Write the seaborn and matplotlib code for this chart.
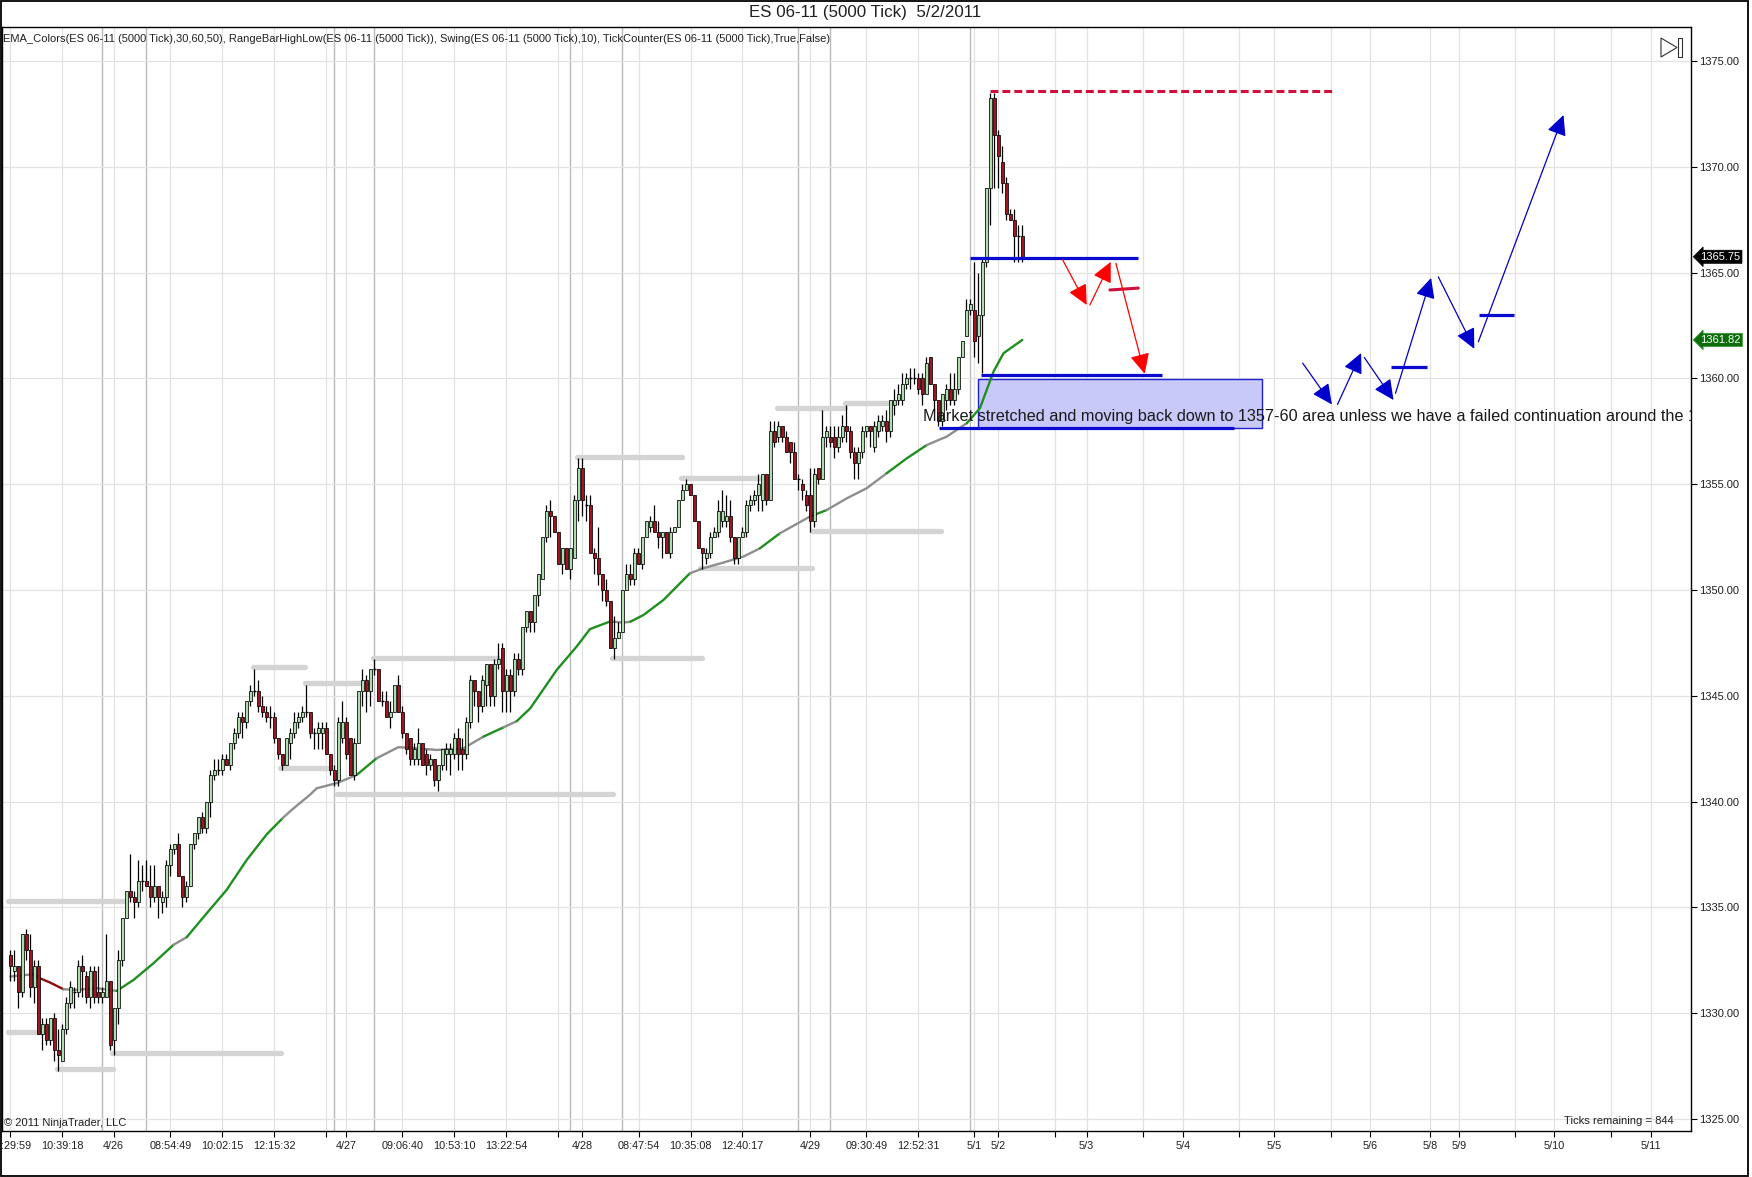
import numpy as np
import pandas as pd
import matplotlib
matplotlib.use("Agg")
import matplotlib.pyplot as plt
import matplotlib.transforms as mtransforms
from matplotlib.patches import Rectangle, Polygon
import seaborn as sns

# ---------------- data ----------------
opens = [
    1332.75, 1332.0, 1332.25, 1331.0, 1333.75, 1333.0, 1331.25, 1332.25, 1329.0, 1329.5,
    1328.75, 1329.75, 1328.25, 1327.75, 1329.25, 1330.5, 1331.0, 1331.0, 1332.25, 1331.75,
    1330.75, 1332.0, 1331.0, 1330.75, 1330.75, 1331.5, 1328.75, 1330.25, 1332.5, 1334.5,
    1335.75, 1335.5, 1335.25, 1336.25, 1336.25, 1336.0, 1335.5, 1336.0, 1335.25, 1335.5,
    1337.0, 1337.75, 1338.0, 1336.5, 1335.5, 1336.0, 1338.0, 1338.5, 1339.25, 1338.75,
    1340.0, 1341.25, 1341.5, 1341.5, 1342.0, 1341.75, 1342.75, 1343.25, 1344.0, 1343.75,
    1344.75, 1345.25, 1345.25, 1344.5, 1344.25, 1344.0, 1344.0, 1343.0, 1342.25, 1341.75,
    1342.75, 1343.25, 1343.75, 1344.0, 1344.25, 1344.25, 1343.25, 1343.25, 1343.25, 1343.5,
    1342.25, 1341.5, 1341.0, 1343.0, 1343.75, 1343.0, 1341.25, 1342.75, 1345.25, 1345.75,
    1345.25, 1346.25, 1346.25, 1344.75, 1344.75, 1344.0, 1344.25, 1345.5, 1344.25, 1343.25,
    1343.0, 1342.0, 1342.0, 1342.75, 1342.25, 1341.75, 1342.0, 1341.0, 1341.75, 1342.25,
    1342.25, 1342.25, 1343.0, 1342.5, 1342.25, 1343.75, 1345.75, 1345.25, 1344.5, 1345.5,
    1346.5, 1345.0, 1346.5, 1347.25, 1345.25, 1346.0, 1345.25, 1346.75, 1346.25, 1348.25,
    1349.0, 1348.5, 1349.75, 1350.5, 1352.5, 1353.75, 1353.5, 1352.75, 1351.25, 1352.0,
    1351.0, 1351.5, 1354.25, 1355.75, 1354.0, 1354.0, 1351.75, 1351.5, 1350.75, 1350.0,
    1349.5, 1347.25, 1347.75, 1348.0, 1350.0, 1350.75, 1350.5, 1351.75, 1351.25, 1352.5,
    1353.0, 1353.25, 1352.75, 1352.5, 1352.75, 1351.75, 1352.75, 1353.0, 1354.25, 1354.75,
    1355.0, 1354.5, 1353.25, 1352.0, 1351.5, 1351.75, 1352.5, 1352.75, 1353.25, 1353.25,
    1353.5, 1352.5, 1351.5, 1352.5, 1352.75, 1354.0, 1354.25, 1354.5, 1354.25, 1355.5,
    1354.25, 1357.5, 1357.25, 1357.75, 1357.25, 1357.0, 1356.5, 1355.25, 1355.0, 1354.5,
    1354.5, 1353.25, 1355.75, 1355.25, 1357.25, 1357.25, 1357.25, 1356.75, 1357.25, 1357.75,
    1357.5, 1356.5, 1356.0, 1356.5, 1357.5, 1357.75, 1356.75, 1357.5, 1357.75, 1358.0,
    1357.5, 1358.75, 1359.0, 1359.0, 1359.75, 1360.0, 1360.0, 1360.0, 1360.0, 1359.25,
    1361.0, 1359.75, 1359.0, 1358.0, 1359.0, 1359.5, 1359.0, 1359.5, 1361.0, 1362.0,
    1363.25, 1363.25, 1362.0, 1363.0, 1365.5, 1369.0, 1373.25, 1371.5, 1370.25, 1369.25,
    1367.75, 1367.5, 1366.75, 1366.75,
]
highs = [
    1333.0, 1333.0, 1332.25, 1333.75, 1334.0, 1333.75, 1332.5, 1332.5, 1329.75, 1329.75,
    1329.75, 1330.0, 1329.25, 1329.5, 1330.75, 1331.5, 1331.25, 1332.5, 1332.75, 1332.0,
    1332.25, 1332.25, 1332.25, 1331.25, 1333.75, 1331.5, 1330.25, 1333.0, 1334.5, 1335.75,
    1337.5, 1335.75, 1337.25, 1337.0, 1337.25, 1337.0, 1337.0, 1336.0, 1335.75, 1337.25,
    1338.0, 1338.0, 1338.5, 1336.5, 1336.25, 1338.0, 1338.5, 1339.25, 1339.5, 1340.0,
    1341.5, 1342.0, 1342.0, 1342.25, 1342.25, 1342.75, 1343.5, 1344.25, 1344.25, 1344.75,
    1345.5, 1346.25, 1345.75, 1345.0, 1344.5, 1344.5, 1344.25, 1343.0, 1342.25, 1343.0,
    1343.5, 1344.25, 1344.25, 1344.5, 1345.5, 1344.25, 1343.5, 1343.75, 1343.75, 1343.75,
    1342.25, 1341.75, 1344.0, 1344.75, 1344.0, 1343.0, 1343.0, 1345.25, 1346.25, 1346.0,
    1346.25, 1346.75, 1346.25, 1345.25, 1345.25, 1344.75, 1345.5, 1346.0, 1344.5, 1343.25,
    1343.0, 1342.75, 1343.5, 1342.75, 1342.5, 1342.25, 1342.0, 1341.75, 1342.5, 1342.75,
    1342.75, 1343.25, 1343.5, 1343.0, 1344.0, 1346.0, 1345.75, 1345.25, 1346.0, 1346.5,
    1346.5, 1346.75, 1347.5, 1347.5, 1346.25, 1346.25, 1347.0, 1347.0, 1348.25, 1349.0,
    1349.0, 1349.75, 1350.75, 1352.5, 1354.0, 1354.25, 1353.5, 1352.75, 1352.0, 1352.0,
    1352.0, 1354.5, 1356.25, 1356.25, 1354.5, 1354.5, 1352.0, 1353.0, 1350.75, 1350.5,
    1349.5, 1348.75, 1348.5, 1350.0, 1351.25, 1351.25, 1352.0, 1352.0, 1352.5, 1353.25,
    1353.5, 1354.0, 1353.25, 1352.75, 1352.75, 1353.0, 1353.0, 1354.25, 1355.0, 1355.25,
    1355.0, 1354.5, 1353.25, 1352.0, 1352.0, 1352.75, 1353.0, 1354.25, 1354.75, 1354.5,
    1354.25, 1352.5, 1352.5, 1353.0, 1354.25, 1354.5, 1354.75, 1355.5, 1355.5, 1355.5,
    1358.0, 1358.0, 1358.0, 1357.75, 1357.5, 1357.0, 1357.0, 1355.5, 1355.25, 1354.75,
    1355.75, 1355.75, 1355.75, 1358.5, 1357.75, 1357.75, 1357.75, 1357.75, 1358.25, 1358.75,
    1357.75, 1356.75, 1356.75, 1357.75, 1357.75, 1357.75, 1358.0, 1358.25, 1358.25, 1358.5,
    1359.0, 1359.5, 1359.75, 1360.25, 1360.25, 1360.5, 1360.5, 1360.25, 1360.25, 1361.0,
    1361.0, 1359.75, 1359.0, 1359.25, 1359.75, 1360.25, 1360.25, 1361.0, 1361.75, 1363.75,
    1363.75, 1365.5, 1365.0, 1365.75, 1369.0, 1373.5, 1373.5, 1371.75, 1371.0, 1369.5,
    1368.0, 1368.0, 1367.25, 1367.25,
]
lows = [
    1331.5, 1331.5, 1330.25, 1330.75, 1332.5, 1330.75, 1330.5, 1329.0, 1328.25, 1328.5,
    1328.5, 1327.75, 1327.25, 1327.75, 1329.0, 1330.25, 1330.25, 1330.75, 1330.75, 1330.5,
    1330.25, 1330.5, 1330.5, 1330.5, 1330.75, 1328.25, 1328.0, 1329.5, 1332.25, 1334.5,
    1335.25, 1334.5, 1335.0, 1335.75, 1336.0, 1335.0, 1335.25, 1334.5, 1334.75, 1335.0,
    1336.5, 1337.5, 1336.5, 1335.0, 1335.25, 1336.0, 1337.75, 1338.25, 1338.5, 1338.5,
    1339.25, 1341.0, 1341.25, 1341.25, 1341.75, 1341.5, 1342.5, 1343.0, 1343.0, 1343.5,
    1344.5, 1345.0, 1344.25, 1344.0, 1343.75, 1343.5, 1342.75, 1342.0, 1341.5, 1341.75,
    1342.0, 1343.0, 1343.5, 1343.75, 1344.0, 1343.0, 1342.5, 1342.5, 1342.5, 1342.25,
    1341.25, 1340.75, 1340.75, 1342.75, 1342.0, 1341.25, 1341.0, 1342.75, 1344.5, 1344.25,
    1344.5, 1346.0, 1344.75, 1344.5, 1344.0, 1343.5, 1344.25, 1344.25, 1343.0, 1342.25,
    1341.75, 1341.75, 1341.75, 1341.75, 1341.25, 1341.5, 1340.75, 1340.5, 1341.5, 1341.5,
    1341.25, 1342.0, 1341.5, 1341.5, 1342.0, 1343.5, 1344.5, 1343.75, 1344.25, 1344.5,
    1344.5, 1344.5, 1346.25, 1344.25, 1344.25, 1344.25, 1345.0, 1346.0, 1346.0, 1348.0,
    1348.0, 1348.0, 1349.25, 1350.5, 1352.25, 1352.5, 1352.75, 1351.25, 1350.75, 1351.0,
    1350.5, 1351.5, 1353.25, 1353.5, 1353.25, 1351.75, 1350.75, 1350.25, 1349.5, 1349.25,
    1347.25, 1346.75, 1347.75, 1348.0, 1350.0, 1350.25, 1350.25, 1351.25, 1351.0, 1352.5,
    1352.75, 1352.75, 1352.0, 1351.5, 1351.75, 1351.5, 1352.75, 1353.0, 1354.25, 1354.75,
    1354.5, 1353.25, 1352.0, 1351.0, 1351.25, 1351.5, 1352.5, 1352.5, 1353.0, 1353.0,
    1352.25, 1351.25, 1351.25, 1352.5, 1352.5, 1353.75, 1354.0, 1353.75, 1353.75, 1354.0,
    1354.25, 1356.75, 1357.0, 1357.0, 1356.5, 1356.0, 1355.25, 1354.75, 1354.25, 1353.75,
    1352.75, 1353.0, 1355.0, 1355.25, 1356.75, 1356.75, 1356.25, 1356.5, 1357.0, 1357.0,
    1356.25, 1355.25, 1355.25, 1356.25, 1357.25, 1356.75, 1356.5, 1357.25, 1357.5, 1357.0,
    1357.25, 1358.25, 1358.75, 1358.75, 1359.5, 1359.5, 1359.75, 1359.25, 1358.75, 1359.25,
    1359.75, 1358.5, 1357.75, 1357.75, 1358.5, 1358.75, 1358.75, 1359.25, 1361.0, 1362.0,
    1363.0, 1361.0, 1360.75, 1360.25, 1365.25, 1367.25, 1369.0, 1369.0, 1368.75, 1367.5,
    1367.5, 1365.5, 1365.5, 1365.5,
]
closes = [
    1332.25, 1332.25, 1331.0, 1333.75, 1333.0, 1331.25, 1332.25, 1329.0, 1329.5, 1328.75,
    1329.75, 1328.25, 1328.0, 1329.25, 1330.5, 1331.25, 1331.0, 1332.25, 1332.0, 1330.75,
    1332.0, 1330.75, 1330.75, 1331.0, 1331.5, 1328.5, 1330.25, 1332.5, 1334.5, 1335.75,
    1335.5, 1335.25, 1336.25, 1336.25, 1336.0, 1335.5, 1336.0, 1335.5, 1335.5, 1337.0,
    1337.75, 1338.0, 1336.5, 1335.5, 1336.0, 1338.0, 1338.5, 1339.25, 1338.75, 1340.0,
    1341.25, 1341.5, 1341.5, 1342.0, 1341.75, 1342.75, 1343.25, 1344.0, 1343.75, 1344.75,
    1345.25, 1345.25, 1344.5, 1344.25, 1344.0, 1344.0, 1343.0, 1342.25, 1341.75, 1343.0,
    1343.25, 1343.75, 1344.0, 1344.25, 1344.25, 1343.25, 1343.25, 1343.5, 1343.5, 1342.25,
    1341.5, 1341.0, 1343.75, 1343.75, 1342.25, 1341.25, 1342.75, 1345.25, 1345.75, 1345.25,
    1346.25, 1346.25, 1344.75, 1344.75, 1344.0, 1344.25, 1345.5, 1344.25, 1343.25, 1342.5,
    1342.0, 1342.5, 1342.75, 1341.75, 1341.75, 1342.0, 1341.0, 1341.75, 1342.5, 1342.5,
    1342.5, 1343.0, 1342.25, 1342.25, 1343.75, 1345.75, 1345.25, 1344.5, 1345.75, 1346.5,
    1345.0, 1346.5, 1346.75, 1345.25, 1346.0, 1345.25, 1346.75, 1346.25, 1348.25, 1349.0,
    1348.5, 1349.75, 1350.75, 1352.5, 1353.75, 1353.5, 1352.75, 1351.25, 1352.0, 1351.0,
    1352.0, 1354.25, 1355.75, 1354.25, 1354.0, 1351.75, 1351.5, 1350.75, 1350.0, 1349.5,
    1347.25, 1347.75, 1348.0, 1350.0, 1350.75, 1350.5, 1351.75, 1351.25, 1352.5, 1353.25,
    1353.25, 1352.75, 1352.5, 1352.75, 1351.75, 1352.75, 1353.0, 1354.25, 1354.75, 1355.0,
    1354.5, 1353.25, 1352.0, 1351.75, 1351.75, 1352.5, 1352.75, 1353.75, 1353.75, 1353.5,
    1352.5, 1351.5, 1352.5, 1352.75, 1354.0, 1354.25, 1354.5, 1355.0, 1355.5, 1354.25,
    1357.5, 1357.0, 1357.75, 1357.25, 1356.5, 1356.5, 1355.25, 1355.25, 1354.75, 1354.0,
    1353.25, 1355.5, 1355.25, 1357.25, 1357.5, 1357.0, 1356.75, 1357.25, 1357.75, 1357.5,
    1356.5, 1356.0, 1356.5, 1357.5, 1357.75, 1357.5, 1357.75, 1358.0, 1358.0, 1357.5,
    1359.0, 1359.0, 1359.25, 1359.75, 1360.0, 1360.0, 1360.0, 1359.5, 1359.25, 1360.75,
    1359.75, 1359.0, 1358.0, 1359.25, 1359.5, 1359.0, 1359.5, 1361.0, 1361.75, 1363.25,
    1363.5, 1361.75, 1363.0, 1365.5, 1369.0, 1373.25, 1371.5, 1370.5, 1369.25, 1367.75,
    1367.5, 1366.75, 1366.75, 1365.75,
]

# EMA indicator line (bar position, value, slope state)
ema_x = [0, 5.75, 7.4, 9.9, 13.3, 16.6, 21.6, 26.6, 30.8, 35.8,
         40.8, 44.1, 49.1, 54.1, 59.1, 64.1, 68, 70.3, 74.9, 76.6,
         81.6, 86.6, 91.6, 97, 101.6, 106.6, 113.3, 118.3, 123.3, 126.6,
         130, 136.6, 141.6, 144.9, 149.9, 153.3, 155, 158.3, 163.3, 169.9,
         173.3, 178.3, 183.3, 187.4, 192.4, 199.9, 204.1, 209.1, 214.1, 219.1,
         224.1, 229.1, 234.1, 239.1, 242.4, 245.8, 248.3, 253]
ema_y = [1331.73, 1331.84, 1331.65, 1331.45, 1331.13, 1331.10, 1331.18, 1331.05, 1331.57, 1332.36,
         1333.23, 1333.59, 1334.72, 1335.83, 1337.24, 1338.45, 1339.2, 1339.6, 1340.32, 1340.63,
         1340.87, 1341.26, 1342.05, 1342.57, 1342.52, 1342.44, 1342.52, 1343.07, 1343.51, 1343.8,
         1344.41, 1346.22, 1347.33, 1348.15, 1348.51, 1348.46, 1348.5, 1348.82, 1349.53, 1350.79,
         1351.03, 1351.3, 1351.58, 1351.97, 1352.68, 1353.47, 1353.78, 1354.33, 1354.81, 1355.52,
         1356.22, 1356.85, 1357.25, 1357.88, 1358.59, 1360.32, 1361.19, 1361.82]
ema_state = ["flat", "flat", "down", "down", "flat", "flat", "flat", "up", "up", "up",
             "flat", "up", "up", "up", "up", "up", "flat", "flat", "flat", "flat",
             "flat", "up", "flat", "flat", "flat", "flat", "flat", "up", "flat", "up",
             "up", "up", "up", "up", "flat", "flat", "up", "up", "up", "flat",
             "flat", "flat", "flat", "up", "flat", "up", "flat", "flat", "flat", "up",
             "up", "flat", "flat", "up", "up", "up", "up"]

# Swing levels: price, first bar, last bar
swing_price = [1335.3, 1329.1, 1327.35, 1328.1, 1346.35, 1345.6, 1341.58, 1346.77,
               1340.35, 1356.3, 1346.77, 1355.31, 1351.05, 1358.59, 1358.82, 1352.8]
swing_start = [-0.6, -0.6, 11.7, 25.4, 60.7, 73.7, 67.4, 90.7,
               81.7, 141.7, 150.4, 167.7, 172.4, 191.7, 208.7, 200.4]
swing_end = [28.7, 7.9, 25.7, 67.8, 73.7, 87.9, 79.9, 121.9,
             150.7, 167.9, 172.9, 187.9, 200.4, 208.7, 219.9, 232.7]

# x-axis ticks (bar positions) and labels
tick_pos = [0, 13, 25.85, 40, 53, 66, 79, 84, 98, 111, 124, 137, 143, 157.2, 170.1, 183,
            200, 214, 227, 240.9, 247, 261.2, 269.1, 283.1, 293.1, 307.1, 316, 330.1, 340,
            355, 362.2, 376.2, 386, 400.1, 410.1]
tick_lab = [":29:59", "10:39:18", "4/26", "08:54:49", "10:02:15", "12:15:32", "", "4/27",
            "09:06:40", "10:53:10", "13:22:54", "", "4/28", "08:47:54", "10:35:08", "12:40:17",
            "4/29", "09:30:49", "12:52:31", "5/1", "5/2", "", "5/3", "", "5/4", "", "5/5", "",
            "5/6", "5/8", "5/9", "", "5/10", "", "5/11"]
session_breaks = [23, 34, 81, 91, 140, 153, 197, 205, 240]
y_ticks = [1325, 1330, 1335, 1340, 1345, 1350, 1355, 1360, 1365, 1370, 1375]

# Drawn objects (bar position, price)
blue_levels = [(1365.7, 239.9, 281.9), (1360.16, 242.7, 287.9), (1357.66, 232.2, 306.0),
               (1360.53, 345.2, 354.1), (1362.99, 367.2, 376.0)]
zone = (242.0, 313.0, 1357.66, 1359.97)
red_dash = (1373.6, 245.0, 331.2)
red_tick = ((274.9, 1364.18), (282.0, 1364.27))
red_arrows = [((263.1, 1365.60), (269.1, 1363.47)),
              ((269.9, 1363.47), (275.1, 1365.51)),
              ((276.4, 1365.44), (283.6, 1360.22))]
blue_arrows = [((323.1, 1360.72), (330.4, 1358.77)),
               ((331.8, 1358.77), (337.7, 1361.20)),
               ((338.5, 1360.99), (345.8, 1358.98)),
               ((346.3, 1359.30), (355.2, 1364.75)),
               ((357.0, 1364.80), (366.0, 1361.40)),
               ((367.0, 1361.73), (388.3, 1372.45))]
note_text = ("Market stretched and moving back down to 1357-60 area unless we have a "
             "failed continuation around the 1")
note_pos = (228.2, 1358.19)
last_close = 1365.75
ema_last = 1361.82

# ---------------- figure ----------------
sns.set_theme(style="white")
plt.rcParams["font.family"] = ["Liberation Sans", "DejaVu Sans"]

W, H, DPI = 1752, 1177, 100
fig = plt.figure(figsize=(W / DPI, H / DPI), dpi=DPI, facecolor="white")
L_px, R_px, T_px, B_px = 2, 1691, 27, 1131
ax = fig.add_axes([L_px / W, 1 - B_px / H, (R_px - L_px) / W, (B_px - T_px) / H])
ax.set_facecolor("white")

x0 = (L_px - 10.3) / 4.0
x1 = (R_px - 10.3) / 4.0
ax.set_xlim(x0, x1)
ax.set_ylim(1324.43, 1376.61)

# grid
ax.set_xticks(tick_pos)
ax.set_xticklabels(tick_lab)
ax.set_yticks(y_ticks)
ax.set_yticklabels([f"{v:.2f}" for v in y_ticks])
ax.grid(True, color="#e2e2e2", linewidth=0.9, zorder=0)
ax.set_axisbelow(True)
for s in session_breaks:
    ax.axvline(s, color="#b9b9b9", linewidth=1.0, zorder=0.5)

ax.yaxis.tick_right()
ax.tick_params(axis="y", which="major", direction="out", length=4, width=0.8,
               color="black", labelsize=8.0, pad=1.5, labelcolor="#202020", right=True, left=False)
ax.tick_params(axis="x", which="major", direction="out", length=4.5, width=0.8,
               color="black", labelsize=7.8, pad=2.5, labelcolor="#202020", bottom=True)
for sp in ax.spines.values():
    sp.set_color("black")
    sp.set_linewidth(1.0)
    sp.set_visible(True)

first = ax.get_xticklabels()[0]
first.set_ha("left")
first.set_transform(first.get_transform() + mtransforms.ScaledTranslation(-6.5 / 72, 0, fig.dpi_scale_trans))

# swing level bars
for p, a, b in zip(swing_price, swing_start, swing_end):
    ax.plot([a, b], [p, p], color="#d4d4d4", linewidth=3.8, solid_capstyle="round", zorder=1.5)

# zone box
zx0, zx1, zy0, zy1 = zone
ax.add_patch(Rectangle((zx0, zy0), zx1 - zx0, zy1 - zy0, facecolor="#c9c9f9",
                       edgecolor="#2020d0", linewidth=1.0, zorder=1.6))

# EMA line via seaborn, grouped by state
ema_colors = {"up": "#1f8f1f", "down": "#8b1010", "flat": "#8e8e8e"}
i = 0
nseg = len(ema_state)
while i < nseg:
    j = i
    while j + 1 < nseg and ema_state[j + 1] == ema_state[i]:
        j += 1
    seg = pd.DataFrame({"x": ema_x[i:j + 2], "y": ema_y[i:j + 2]})
    sns.lineplot(data=seg, x="x", y="y", color=ema_colors[ema_state[i]], linewidth=1.7,
                 sort=False, estimator=None, ax=ax, zorder=3, solid_capstyle="round")
    i = j + 1

# candles
df = pd.DataFrame({"o": opens, "h": highs, "l": lows, "c": closes})
df["x"] = np.arange(len(df))
ax.vlines(df["x"], df["l"], df["h"], color="black", linewidth=0.9, zorder=4)
up = df[df["c"] > df["o"]]
dn = df[df["c"] < df["o"]]
dj = df[df["c"] == df["o"]]
ax.bar(up["x"], up["c"] - up["o"], bottom=up["o"], width=0.74, color="#aedcae",
       edgecolor="black", linewidth=0.55, zorder=5)
ax.bar(dn["x"], dn["o"] - dn["c"], bottom=dn["c"], width=0.74, color="#9e1620",
       edgecolor="black", linewidth=0.55, zorder=5)
ax.hlines(dj["c"], dj["x"] - 0.4, dj["x"] + 0.4, color="black", linewidth=1.0, zorder=5)

# blue levels
for p, a, b in blue_levels:
    ax.plot([a, b], [p, p], color="#0a0ad0", linewidth=2.3, zorder=6, solid_capstyle="butt")

# red dashed high line
p, a, b = red_dash
ax.plot([a, b], [p, p], color="#d0103a", linewidth=2.2, linestyle=(0, (2.6, 1.3)), zorder=6)
ax.plot([red_tick[0][0], red_tick[1][0]], [red_tick[0][1], red_tick[1][1]],
        color="#d0103a", linewidth=2.2, zorder=6)

arrow_style = "-|>,head_length=0.62,head_width=0.3"
for (sx, sy), (ex, ey) in red_arrows:
    ax.annotate("", xy=(ex, ey), xytext=(sx, sy),
                arrowprops=dict(arrowstyle=arrow_style, color="#ff0000", lw=0.9,
                                mutation_scale=20, shrinkA=0, shrinkB=0), zorder=7)
for (sx, sy), (ex, ey) in blue_arrows:
    ax.annotate("", xy=(ex, ey), xytext=(sx, sy),
                arrowprops=dict(arrowstyle=arrow_style, color="#0000cc", lw=0.9,
                                mutation_scale=20, shrinkA=0, shrinkB=0), zorder=7)

# note text (clipped by the panel)
ax.text(note_pos[0], note_pos[1], note_text, fontsize=11.7, color="#1a1a1a",
        ha="left", va="center", clip_on=True, zorder=8)

# header / footer texts
ax.text(0.0008, 0.9892,
        "EMA_Colors(ES 06-11 (5000 Tick),30,60,50), RangeBarHighLow(ES 06-11 (5000 Tick)), "
        "Swing(ES 06-11 (5000 Tick),10), TickCounter(ES 06-11 (5000 Tick),True,False)",
        transform=ax.transAxes, fontsize=8.0, color="#202020", ha="left", va="center")
ax.text(0.0012, 0.007, "\u00a9 2011 NinjaTrader, LLC", transform=ax.transAxes,
        fontsize=8.0, color="#202020", ha="left", va="center")
ax.text(0.9899, 0.0093, "Ticks remaining = 844", transform=ax.transAxes,
        fontsize=8.1, color="#202020", ha="right", va="center")
fig.text(865 / W, 1 - 12 / H, "ES 06-11 (5000 Tick)  5/2/2011", fontsize=12.2,
         color="#202020", ha="center", va="center")

# right-axis value tags
blend = mtransforms.blended_transform_factory(ax.transAxes, ax.transData)
ax.text(1.0055, last_close, f"{last_close:.2f}", transform=blend, fontsize=8.0, color="white",
        ha="left", va="center", clip_on=False, zorder=9,
        bbox=dict(boxstyle="larrow,pad=0.14", fc="black", ec="black", lw=0.5))
ax.text(1.0055, ema_last, f"{ema_last:.2f}", transform=blend, fontsize=8.0, color="white",
        ha="left", va="center", clip_on=False, zorder=9,
        bbox=dict(boxstyle="larrow,pad=0.14", fc="#0b6e0b", ec="#3a9a3a", lw=0.6))

# "go to end" icon
def fp(x, y):
    return (x / W, 1 - y / H)

fig.patches.append(Polygon([fp(1661, 38), fp(1661, 57), fp(1677, 47.5)], closed=True,
                           fill=False, edgecolor="#303030", linewidth=0.8,
                           transform=fig.transFigure, figure=fig))
fig.patches.append(Rectangle(fp(1678, 57), 4 / W, 19 / H, fill=False, edgecolor="#303030",
                             linewidth=0.8, transform=fig.transFigure, figure=fig))
# outer frame
fig.patches.append(Rectangle((0.5 / W, 1.0 / H), (W - 4.5) / W, (H - 2.0) / H, fill=False,
                             edgecolor="black", linewidth=1.3, transform=fig.transFigure,
                             figure=fig))

ax.set_xlabel("")
ax.set_ylabel("")
fig.savefig("out.png", dpi=DPI, facecolor="white")
